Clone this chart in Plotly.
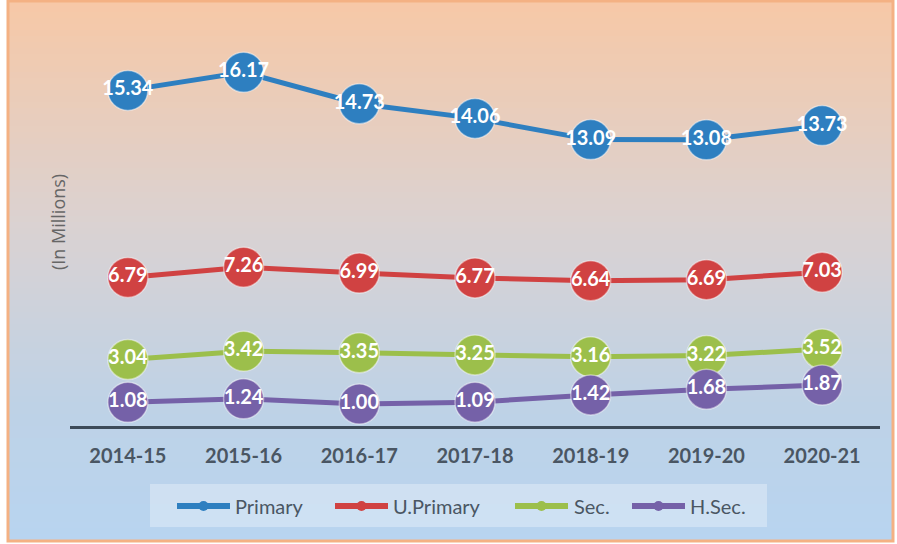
import plotly.graph_objects as go

YEARS = ["2014-15", "2015-16", "2016-17", "2017-18", "2018-19", "2019-20", "2020-21"]
PRIMARY = [15.34, 16.17, 14.73, 14.06, 13.09, 13.08, 13.73]
U_PRIMARY = [6.79, 7.26, 6.99, 6.77, 6.64, 6.69, 7.03]
SEC = [3.04, 3.42, 3.35, 3.25, 3.16, 3.22, 3.52]
H_SEC = [1.08, 1.24, 1.00, 1.09, 1.42, 1.68, 1.87]

SERIES = [
    ("Primary", PRIMARY, "#2e7fc0"),
    ("U.Primary", U_PRIMARY, "#d04242"),
    ("Sec.", SEC, "#9cbf4b"),
    ("H.Sec.", H_SEC, "#7561a8"),
]

W, H = 897, 544
FONT = "Lato"
LABEL_GRAY = "#4a5663"

# legend entry x positions (px): line start, line end, text start
LEGEND_POS = [(177, 230, 233), (335, 388, 391), (515, 568, 572), (632, 685, 688)]
LEGEND_Y = 506

# background gradient stops (fraction from top, rgb)
GRAD = [(0.0, (247, 200, 166)), (0.42, (218, 210, 210)), (0.75, (190, 210, 230)), (1.0, (184, 212, 240))]


def grad_color(t):
    for (t0, c0), (t1, c1) in zip(GRAD, GRAD[1:]):
        if t0 <= t <= t1:
            f = (t - t0) / (t1 - t0)
            c = [round(a + (b - a) * f) for a, b in zip(c0, c1)]
            return f"rgb({c[0]},{c[1]},{c[2]})"
    return "rgb(%d,%d,%d)" % GRAD[-1][1]


def px_x(x):
    return x / W


def px_y(y):
    return 1 - y / H


fig = go.Figure()

for name, vals, color in SERIES:
    fig.add_trace(go.Scatter(
        x=YEARS, y=vals, mode="lines+markers+text", name=name, showlegend=False,
        line=dict(color=color, width=5),
        marker=dict(size=40, color=color, line=dict(color="rgba(255,255,255,0.45)", width=1.5)),
        text=[f"{v:.2f}" for v in vals], textposition="middle center",
        textfont=dict(family=FONT, size=20, color="white", weight="bold"),
        cliponaxis=False, hoverinfo="skip",
    ))

# gradient background strips inside the orange frame
x0, x1 = px_x(8), px_x(893)
top, bot = px_y(1), px_y(541)
n = 90
shapes = []
for i in range(n):
    ya = top - (top - bot) * i / n
    yb = top - (top - bot) * (i + 1) / n
    shapes.append(dict(type="rect", xref="paper", yref="paper", x0=x0, x1=x1, y0=yb, y1=ya + 0.002,
                       fillcolor=grad_color((i + 0.5) / n), line=dict(width=0), layer="below"))
shapes.append(dict(type="rect", xref="paper", yref="paper", x0=x0, x1=x1, y0=bot, y1=top,
                   fillcolor="rgba(0,0,0,0)", line=dict(color="#f4b183", width=3), layer="above"))

# hand-drawn legend box, matching the long line keys of the original
shapes.append(dict(type="rect", xref="paper", yref="paper", x0=px_x(150), x1=px_x(767),
                   y0=px_y(527), y1=px_y(484), fillcolor="rgba(255,255,255,0.3)",
                   line=dict(width=0), layer="above"))
annotations = []
for (name, _, color), (la, lb, tx) in zip(SERIES, LEGEND_POS):
    shapes.append(dict(type="line", xref="paper", yref="paper", x0=px_x(la), x1=px_x(lb),
                       y0=px_y(LEGEND_Y), y1=px_y(LEGEND_Y), line=dict(color=color, width=6),
                       layer="above"))
    mid = (la + lb) / 2
    shapes.append(dict(type="circle", xref="paper", yref="paper", x0=px_x(mid - 5), x1=px_x(mid + 5),
                       y0=px_y(LEGEND_Y + 5), y1=px_y(LEGEND_Y - 5), fillcolor=color,
                       line=dict(width=0), layer="above"))
    annotations.append(dict(text=name, xref="paper", yref="paper", x=px_x(tx), y=px_y(LEGEND_Y),
                            xanchor="left", yanchor="middle", showarrow=False,
                            font=dict(family=FONT, size=20, color=LABEL_GRAY)))

annotations.append(dict(
    text="(In Millions)", xref="paper", yref="paper", x=px_x(58), y=px_y(222),
    xanchor="center", yanchor="middle", textangle=-90, showarrow=False,
    font=dict(family="Open Sans", size=18, color="#666666"),
))

fig.update_layout(
    width=W, height=H,
    margin=dict(l=0, r=0, t=0, b=0),
    paper_bgcolor="white", plot_bgcolor="rgba(0,0,0,0)",
    showlegend=False,
    shapes=shapes,
    annotations=annotations,
    xaxis=dict(
        domain=[px_x(70), px_x(880)], range=[-0.5, 6.5], showgrid=False, zeroline=False,
        showline=True, linecolor="#3d4b59", linewidth=3,
        ticks="outside", ticklen=10, tickcolor="rgba(0,0,0,0)",
        tickfont=dict(family=FONT, size=20, color=LABEL_GRAY, weight="bold"),
    ),
    yaxis=dict(
        domain=[px_y(426), px_y(30)], range=[0, 18.1],
        showgrid=False, zeroline=False, showticklabels=False, showline=False,
    ),
)

# drop the default page margin so the figure sits at the window origin
fig.write_html("out.html", config={"displayModeBar": False},
               post_script="document.body.style.margin='0';")
